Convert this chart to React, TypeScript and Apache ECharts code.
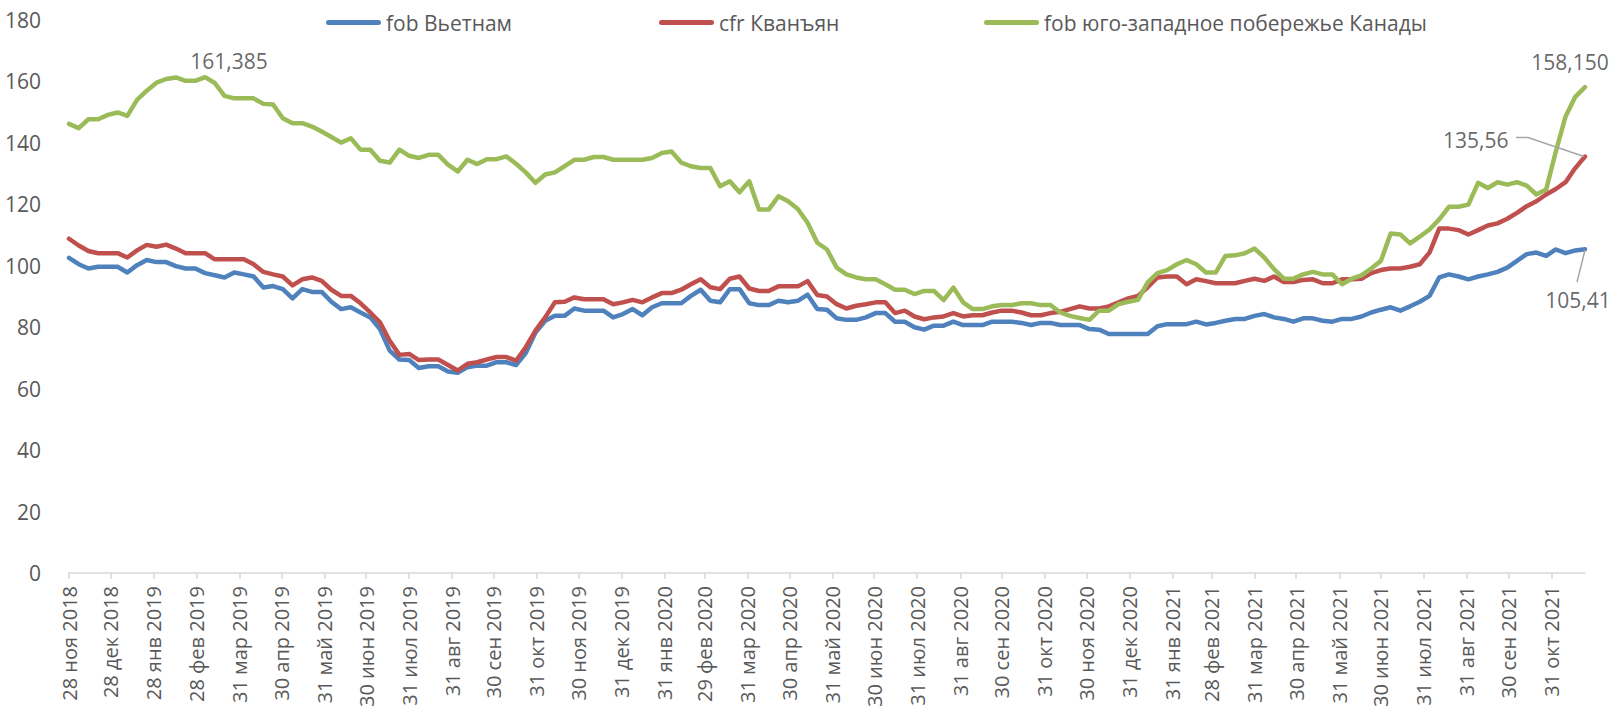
import React, { useEffect, useRef } from "react";
import * as echarts from "echarts";

const seriesNames = ["fob Вьетнам", "cfr Кванъян", "fob юго-западное побережье Канады"];
const seriesColors = ["#4F81BD", "#C0504D", "#9BBB59"];

const startDate = "2018-11-28";

const vietnam = [
  102.6, 100.5, 99.1, 99.7, 99.7, 99.7, 97.8, 100.2, 101.9, 101.2,
  101.2, 99.9, 99.1, 99.1, 97.6, 96.9, 96.2, 97.8, 97.2, 96.5,
  92.9, 93.4, 92.4, 89.4, 92.4, 91.5, 91.5, 88.3, 85.9, 86.5,
  84.8, 83.2, 79.4, 72.4, 69.5, 69.3, 66.7, 67.3, 67.3, 65.6,
  65.2, 67.0, 67.5, 67.5, 68.6, 68.6, 67.7, 71.6, 78.3, 82.1,
  83.7, 83.7, 86.1, 85.4, 85.4, 85.4, 83.2, 84.3, 85.9, 83.9,
  86.5, 87.8, 87.8, 87.8, 90.2, 92.2, 88.6, 88.1, 92.4, 92.4,
  87.8, 87.2, 87.2, 88.6, 88.1, 88.6, 90.6, 85.9, 85.7, 82.9,
  82.4, 82.4, 83.2, 84.6, 84.6, 81.8, 81.8, 80.0, 79.2, 80.5,
  80.5, 81.8, 80.7, 80.7, 80.7, 81.8, 81.8, 81.8, 81.4, 80.7,
  81.4, 81.4, 80.7, 80.7, 80.7, 79.4, 79.2, 77.8, 77.8, 77.8,
  77.8, 77.8, 80.3, 81.0, 81.0, 81.0, 81.8, 80.9, 81.4, 82.1,
  82.7, 82.7, 83.7, 84.3, 83.2, 82.7, 81.8, 82.9, 82.9, 82.1,
  81.8, 82.7, 82.7, 83.5, 84.8, 85.7, 86.5, 85.4, 86.8, 88.3,
  90.2, 96.2, 97.2, 96.5, 95.6, 96.5, 97.2, 98.0, 99.4, 101.6,
  103.8, 104.3, 103.2, 105.3, 104.1, 105.0, 105.41,
];

const guangzhou = [
  108.8, 106.6, 104.8, 104.1, 104.1, 104.1, 102.7, 105.0, 106.8, 106.2,
  106.9, 105.6, 104.1, 104.1, 104.1, 102.1, 102.1, 102.1, 102.1, 100.5,
  98.0, 97.2, 96.5, 93.6, 95.6, 96.2, 95.1, 92.2, 90.2, 90.2,
  87.8, 84.8, 81.6, 75.6, 71.0, 71.3, 69.3, 69.5, 69.5, 67.7,
  65.9, 68.1, 68.6, 69.5, 70.3, 70.3, 69.1, 73.5, 78.9, 83.2,
  88.1, 88.3, 89.7, 89.1, 89.1, 89.1, 87.5, 88.1, 88.9, 88.1,
  89.7, 91.1, 91.1, 92.2, 94.0, 95.6, 93.0, 92.4, 95.8, 96.5,
  92.6, 91.8, 91.8, 93.3, 93.3, 93.3, 95.0, 90.5, 90.0, 87.5,
  86.1, 87.0, 87.5, 88.1, 88.1, 84.6, 85.4, 83.5, 82.6, 83.2,
  83.5, 84.6, 83.5, 83.9, 83.9, 84.8, 85.4, 85.4, 84.8, 83.9,
  83.9, 84.6, 85.0, 85.9, 86.8, 86.1, 86.1, 86.8, 88.1, 89.4,
  90.2, 93.0, 96.2, 96.5, 96.5, 94.0, 95.6, 95.0, 94.3, 94.3,
  94.3, 95.1, 95.8, 95.1, 96.5, 94.7, 94.7, 95.4, 95.6, 94.3,
  94.3, 95.6, 95.6, 95.8, 97.6, 98.6, 99.1, 99.1, 99.7, 100.5,
  104.3, 112.1, 112.1, 111.6, 110.2, 111.6, 113.1, 113.8, 115.3, 117.2,
  119.4, 121.0, 123.2, 125.0, 127.2, 131.8, 135.56,
];

const canada = [
  146.2, 144.8, 147.7, 147.7, 149.1, 149.9, 148.8, 154.0, 157.0, 159.6,
  160.8, 161.3, 160.2, 160.2, 161.385, 159.5, 155.3, 154.5, 154.5, 154.5,
  152.7, 152.5, 148.0, 146.4, 146.4, 145.3, 143.7, 141.9, 140.1, 141.5,
  137.8, 137.8, 134.2, 133.6, 137.8, 135.8, 135.1, 136.1, 136.1, 132.9,
  130.7, 134.5, 133.1, 134.7, 134.7, 135.6, 133.2, 130.4, 127.0, 129.7,
  130.4, 132.4, 134.5, 134.5, 135.4, 135.4, 134.5, 134.5, 134.5, 134.5,
  135.1, 136.7, 137.2, 133.6, 132.4, 131.8, 131.8, 125.9, 127.5, 123.9,
  127.5, 118.3, 118.3, 122.6, 121.0, 118.5, 114.0, 107.5, 105.3, 99.4,
  97.2, 96.2, 95.6, 95.6, 94.0, 92.2, 92.2, 90.8, 91.8, 91.8,
  88.8, 92.9, 88.1, 85.9, 85.9, 86.8, 87.2, 87.2, 87.8, 87.8,
  87.2, 87.2, 84.8, 83.7, 83.0, 82.4, 85.4, 85.4, 87.5, 88.3,
  88.9, 94.6, 97.6, 98.6, 100.5, 101.9, 100.5, 97.8, 97.8, 103.2,
  103.4, 104.1, 105.6, 102.7, 98.9, 95.8, 95.8, 97.2, 98.0, 97.2,
  97.2, 94.0, 95.8, 96.9, 99.1, 101.6, 110.5, 110.2, 107.3, 109.5,
  111.8, 115.1, 119.2, 119.2, 119.9, 127.0, 125.3, 127.2, 126.4, 127.2,
  126.1, 123.2, 124.8, 137.2, 148.6, 155.0, 158.15,
];

const tickDates = [
  "2018-11-28", "2018-12-28", "2019-01-28", "2019-02-28", "2019-03-31", "2019-04-30",
  "2019-05-31", "2019-06-30", "2019-07-31", "2019-08-31", "2019-09-30", "2019-10-31",
  "2019-11-30", "2019-12-31", "2020-01-31", "2020-02-29", "2020-03-31", "2020-04-30",
  "2020-05-31", "2020-06-30", "2020-07-31", "2020-08-31", "2020-09-30", "2020-10-31",
  "2020-11-30", "2020-12-31", "2021-01-31", "2021-02-28", "2021-03-31", "2021-04-30",
  "2021-05-31", "2021-06-30", "2021-07-31", "2021-08-31", "2021-09-30", "2021-10-31",
];
const monthNames = ["янв", "фев", "мар", "апр", "май", "июн", "июл", "авг", "сен", "окт", "ноя", "дек"];

const canadaPeakIndex = 14;

const FONT = "'Open Sans', 'Noto Sans', sans-serif";
const DAY = 86400000;
const toTs = (iso: string) => Date.parse(iso + "T00:00:00Z");
const startTs = toTs(startDate);
// x = days since the first weekly observation
const weekDays = vietnam.map((_, i) => i * 7);
const tickDays = tickDates.map((d) => Math.round((toTs(d) - startTs) / DAY));
const fmtDay = (v: number) => {
  const d = new Date(startTs + Math.round(v) * DAY);
  return `${d.getUTCDate()} ${monthNames[d.getUTCMonth()]} ${d.getUTCFullYear()}`;
};
const fmtNum = (v: number, digits: number) => v.toFixed(digits).replace(".", ",");

const CAPSULE = "path://M2.5,0H52.5A2.5,2.5,0,0,1,52.5,5H2.5A2.5,2.5,0,0,1,2.5,0Z";

export default function App() {
  const ref = useRef<HTMLDivElement>(null);
  useEffect(() => {
    if (!ref.current) return;
    const chart = echarts.init(ref.current, null, { renderer: "svg" });
    const last = weekDays.length - 1;
    const seriesData = [vietnam, guangzhou, canada];
    const labelText = { color: "#404040", fontSize: 21, fontFamily: FONT };
    chart.setOption({
      animation: false,
      backgroundColor: "#ffffff",
      textStyle: { fontFamily: FONT },
      grid: { left: 69, right: 28, top: 20, bottom: 140, containLabel: false, outerBoundsMode: "none" },
      legend: seriesNames.map((n, k) => ({
        data: [n],
        left: [321, 654, 979][k],
        top: 7,
        icon: CAPSULE,
        itemWidth: 55,
        itemHeight: 5,
        selectedMode: false,
        textStyle: { color: "#595959", fontSize: 21, fontFamily: FONT },
      })),
      xAxis: {
        type: "value",
        min: 0,
        max: weekDays[last],
        axisLine: { lineStyle: { color: "#D9D9D9", width: 1.5 } },
        axisTick: { show: true, customValues: tickDays, length: 6, lineStyle: { color: "#D9D9D9", width: 1.5 } },
        axisLabel: {
          customValues: tickDays,
          rotate: 90,
          margin: 13,
          color: "#595959",
          fontSize: 20,
          fontFamily: FONT,
          formatter: (v: number) => fmtDay(v),
        },
        splitLine: { show: false },
      },
      yAxis: {
        type: "value",
        min: 0,
        max: 180,
        interval: 20,
        axisLine: { show: false },
        axisTick: { show: false },
        splitLine: { show: false },
        axisLabel: { color: "#595959", fontSize: 21, fontFamily: FONT, margin: 28 },
      },
      series: [
        ...seriesNames.map((n, k) => ({
          name: n,
          type: "line",
          symbol: "none",
          showSymbol: false,
          color: seriesColors[k],
          lineStyle: { color: seriesColors[k], width: 4.5, join: "round", cap: "round" },
          data: seriesData[k].map((v, i) => [weekDays[i], v]),
          z: 2 + k,
        })),
        {
          type: "scatter",
          name: "labels",
          silent: true,
          symbolSize: 1,
          itemStyle: { color: "rgba(0,0,0,0)" },
          z: 10,
          label: { show: true, ...labelText },
          data: [
            {
              value: [weekDays[canadaPeakIndex], canada[canadaPeakIndex]],
              label: { position: "top", distance: 5, offset: [24, 0], formatter: fmtNum(canada[canadaPeakIndex], 3) },
            },
            {
              value: [weekDays[last], canada[last]],
              label: { position: "top", distance: 14, offset: [-15, 0], formatter: fmtNum(canada[last], 3) },
            },
            {
              value: [weekDays[last], guangzhou[last]],
              label: { position: "left", distance: 76, offset: [0, -17], formatter: fmtNum(guangzhou[last], 2) },
            },
            {
              value: [weekDays[last], vietnam[last]],
              label: { position: "bottom", distance: 40, offset: [-7, 0], formatter: fmtNum(vietnam[last], 2) },
            },
          ],
        },
      ],
    });
    // leader lines from the data-label to its point (anchored on the data point)
    const pr = chart.convertToPixel({ gridIndex: 0 }, [weekDays[last], guangzhou[last]]) as number[];
    const pb = chart.convertToPixel({ gridIndex: 0 }, [weekDays[last], vietnam[last]]) as number[];
    const guideStyle = { stroke: "#A6A6A6", lineWidth: 1.5, fill: null };
    chart.setOption({
      graphic: [
        {
          type: "polyline",
          silent: true,
          z: 20,
          shape: { points: [[pr[0] - 1, pr[1]], [pr[0] - 57, pr[1] - 19], [pr[0] - 69, pr[1] - 19]] },
          style: guideStyle,
        },
        {
          type: "line",
          silent: true,
          z: 20,
          shape: { x1: pb[0], y1: pb[1] + 1, x2: pb[0] - 8, y2: pb[1] + 33 },
          style: guideStyle,
        },
      ],
    });
    return () => chart.dispose();
  }, []);
  return (
    <div
      ref={ref}
      style={{ position: "fixed", left: 0, top: 0, width: 1613, height: 713, background: "#fff" }}
    />
  );
}
